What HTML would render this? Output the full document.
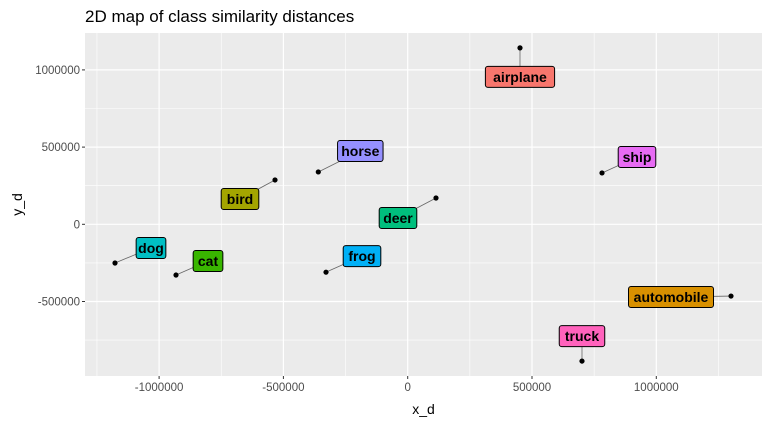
<!DOCTYPE html>
<html><head><meta charset="utf-8"><style>
body{margin:0;background:#fff;font-family:"Liberation Sans",sans-serif}
</style></head><body>
<svg id="chart" width="770" height="423" viewBox="0 0 770 423"></svg>
<script>
const classes=["airplane","automobile","bird","cat","deer","dog","frog","horse","ship","truck"];
const xVals=[451700,1300500,-533800,-932000,113800,-1177400,-328600,-359600,781600,701100];
const yVals=[1142600,-464700,287100,-328600,170500,-250800,-310000,339000,332500,-886000];
const colors=["#F8766D","#D89000","#A3A500","#39B600","#00BF7D","#00BFC4","#00B0F6","#9590FF","#E76BF3","#FF62BC"];
const xTicks=[-1000000,-500000,0,500000,1000000];
const yTicks=[-500000,0,500000,1000000];
// label offsets in px (layout, not data)
const offX=[0,-60,-35,32,-38,36,36,42,35,0];
const offY=[29,1,19,-14,20,-15,-16,-21,-16,-25];

const NS="http://www.w3.org/2000/svg";
const svg=document.getElementById('chart');
const L=85,R=762,T=33,B=376;
function sx(v){return 407.7+v/500000*124.3;}
function sy(v){return 224.3-v/500000*77.2;}
function el(tag,attrs,parent){const e=document.createElementNS(NS,tag);for(const k in attrs)e.setAttribute(k,attrs[k]);(parent||svg).appendChild(e);return e;}

const title=el('text',{x:85,y:22,'font-size':17,fill:'#000'});
title.textContent="2D map of class similarity distances";



const panel=el('rect',{x:L,y:T,width:R-L,height:B-T,fill:'#EBEBEB'});



for(let i=0;i<xTicks.length-1;i++){const v=(xTicks[i]+xTicks[i+1])/2;el('line',{x1:sx(v),x2:sx(v),y1:T,y2:B,stroke:'#fff','stroke-width':0.6});}
el('line',{x1:sx(-1250000),x2:sx(-1250000),y1:T,y2:B,stroke:'#fff','stroke-width':0.6});
el('line',{x1:sx(1250000),x2:sx(1250000),y1:T,y2:B,stroke:'#fff','stroke-width':0.6});
for(let i=0;i<yTicks.length-1;i++){const v=(yTicks[i]+yTicks[i+1])/2;el('line',{x1:L,x2:R,y1:sy(v),y2:sy(v),stroke:'#fff','stroke-width':0.6});}
el('line',{x1:L,x2:R,y1:sy(-750000),y2:sy(-750000),stroke:'#fff','stroke-width':0.6});

xTicks.forEach(v=>{
  const x=sx(v);
  el('line',{x1:x,x2:x,y1:T,y2:B,stroke:'#fff','stroke-width':1.2});
  el('line',{x1:x,x2:x,y1:B,y2:B+3,stroke:'#333','stroke-width':1});
  const t=el('text',{x:x,y:B+15,'font-size':11.5,fill:'#4D4D4D','text-anchor':'middle'});
  t.textContent=String(v);
  
  
});
yTicks.forEach(v=>{
  const y=sy(v);
  el('line',{x1:L,x2:R,y1:y,y2:y,stroke:'#fff','stroke-width':1.2});
  el('line',{x1:L-3,x2:L,y1:y,y2:y,stroke:'#333','stroke-width':1});
  const t=el('text',{x:L-5,y:y+4,'font-size':11.5,fill:'#4D4D4D','text-anchor':'end'});
  t.textContent=String(v);
  
  
});

const xt=el('text',{x:(L+R)/2,y:414,'font-size':14,fill:'#000','text-anchor':'middle'});
xt.textContent="x_d";


const yt=el('text',{x:0,y:0,'font-size':14,fill:'#000','text-anchor':'middle',transform:'translate(22,'+((T+B)/2)+') rotate(-90)'});
yt.textContent="y_d";



classes.forEach((c,i)=>{
  const px=sx(xVals[i]),py=sy(yVals[i]);
  const lx=px+offX[i],ly=py+offY[i];
  const w=c.length*7.9+6,h=21;
  const g=el('g',{});
  
  
  el('line',{x1:px,y1:py,x2:lx,y2:ly,stroke:'#666','stroke-width':0.8},g);
  const p=el('circle',{cx:px,cy:py,r:2.6,fill:'#000'},g);
  
  
  el('rect',{x:lx-w/2,y:ly-h/2,width:w,height:h,rx:2.5,fill:colors[i],stroke:'#000','stroke-width':1},g);
  const t=el('text',{x:lx,y:ly+5,'font-size':14,'font-weight':'bold',fill:'#000','text-anchor':'middle'},g);
  t.textContent=c;
});
</script>
</body></html>
